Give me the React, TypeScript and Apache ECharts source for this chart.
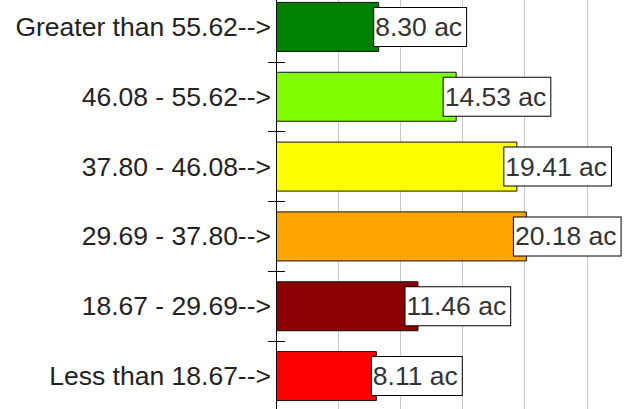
import React, { useEffect, useRef } from "react";
import * as echarts from "echarts";

const categories = [
  "Greater than 55.62-->",
  "46.08 - 55.62-->",
  "37.80 - 46.08-->",
  "29.69 - 37.80-->",
  "18.67 - 29.69-->",
  "Less than 18.67-->",
];
const values = [8.3, 14.53, 19.41, 20.18, 11.46, 8.11];
const barColors = ["#008000", "#80ff00", "#ffff00", "#ffa500", "#8b0000", "#ff0000"];
const xTicks = [0, 5, 10, 15, 20, 25, 30];

const FONT = "'Liberation Sans', Arial, sans-serif";

export default function App() {
  const ref = useRef<HTMLDivElement>(null);
  useEffect(() => {
    if (!ref.current) return;
    const chart = echarts.init(ref.current, null, { renderer: "svg" });
    const xMin = xTicks[0];
    const xMax = xTicks[xTicks.length - 1];
    const step = xTicks[1] - xTicks[0];
    chart.setOption({
      animation: false,
      backgroundColor: "#ffffff",
      grid: { left: 276, top: 12, width: 373, height: 419, containLabel: false },
      xAxis: {
        type: "value",
        min: xMin,
        max: xMax,
        interval: step,
        axisLine: { show: false },
        axisTick: { show: false },
        axisLabel: { show: false },
        splitLine: { show: true, lineStyle: { color: "#c8c8c8", width: 1 } },
      },
      yAxis: [
        {
          type: "category",
          data: categories,
          inverse: true,
          position: "left",
          axisLine: { show: true, lineStyle: { color: "#000", width: 1 } },
          axisTick: { show: true, inside: false, length: 8, lineStyle: { color: "#000", width: 1 } },
          axisLabel: {
            color: "#222",
            fontFamily: FONT,
            fontSize: 26.5,
            margin: 5,
          },
          splitLine: { show: false },
        },
        {
          type: "category",
          data: categories,
          inverse: true,
          position: "left",
          axisLine: { show: false },
          axisTick: { show: true, inside: true, length: 9, lineStyle: { color: "#000", width: 1 } },
          axisLabel: { show: false },
          splitLine: { show: false },
        },
      ],
      series: [
        {
          type: "bar",
          yAxisIndex: 0,
          barWidth: 50,
          data: values.map((v, i) => ({
            value: v,
            itemStyle: { color: barColors[i] },
            label: { offset: [v >= 10 ? -13 : -5, 0] },
          })),
          itemStyle: { borderColor: "#111", borderWidth: 1 },
          label: {
            show: true,
            position: "right",
            distance: 0,
            formatter: (p: any) => p.value.toFixed(2) + " ac",
            color: "#333",
            fontFamily: FONT,
            fontSize: 26.5,
            lineHeight: 30,
            backgroundColor: "#ffffff",
            borderColor: "#000",
            borderWidth: 1,
            padding: [4, 4, 4, 1],
          },
        },
      ],
    });
    return () => chart.dispose();
  }, []);
  return (
    <div
      ref={ref}
      style={{ position: "fixed", left: 0, top: -20, width: 680, height: 460 }}
    />
  );
}
